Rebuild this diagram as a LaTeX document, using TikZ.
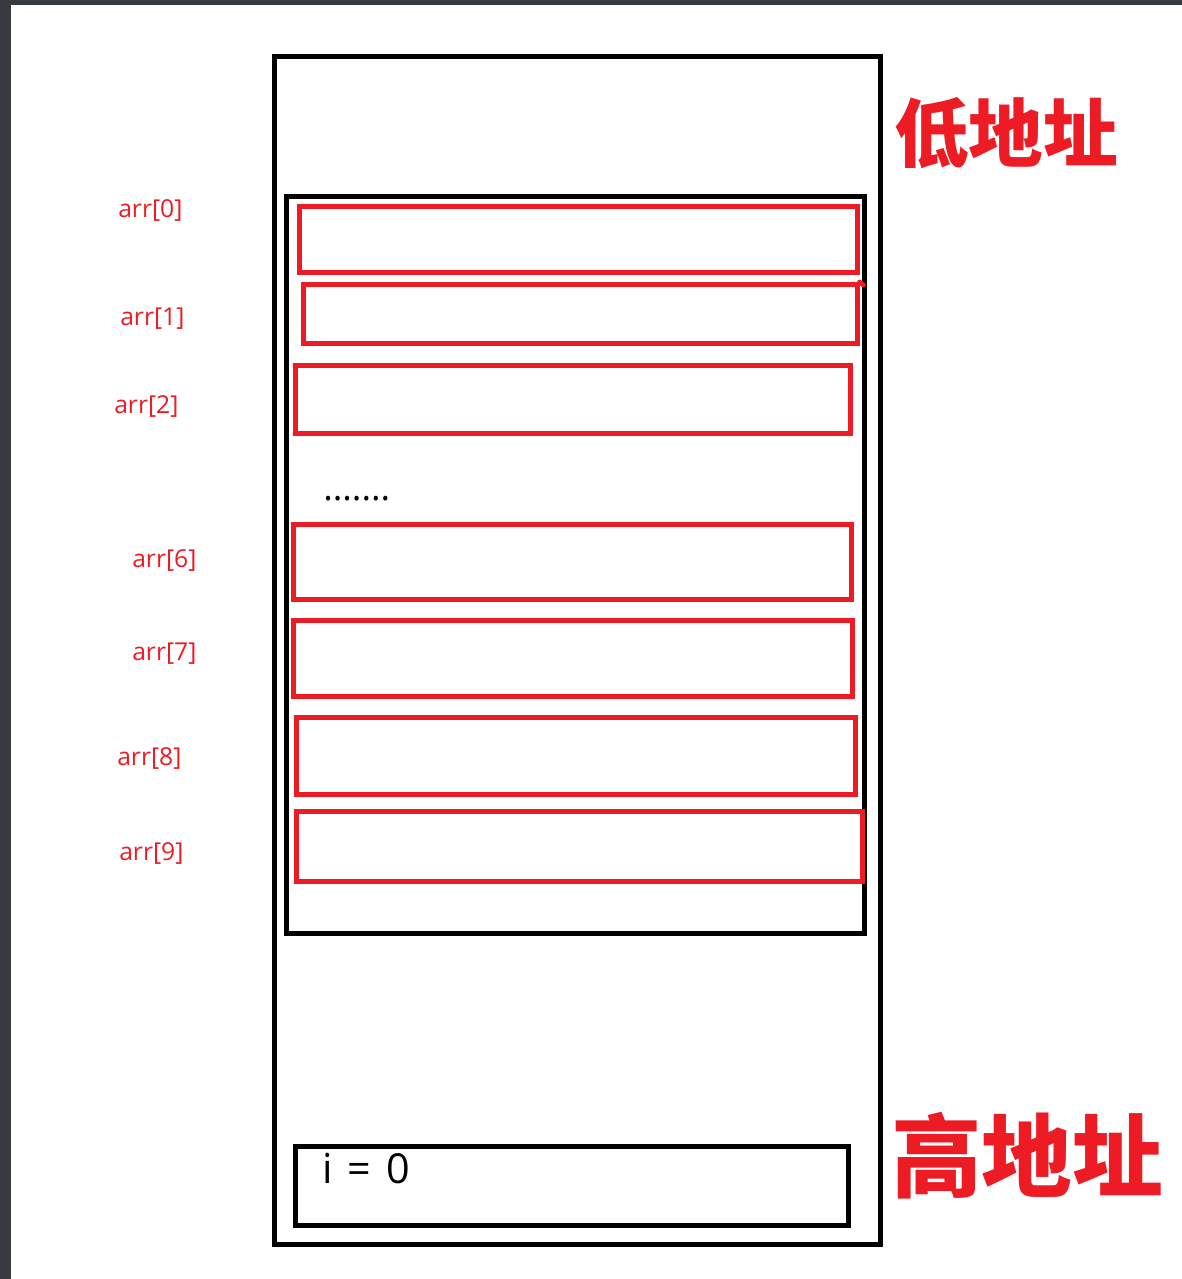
\documentclass[tikz,border=0pt]{standalone}
\usepackage{fontspec}
\setmainfont{Open Sans}
\newfontfamily\cjk{Noto Sans CJK SC}
\usepackage{tikz}
\definecolor{addrred}{RGB}{237,28,36}
\definecolor{screen}{RGB}{55,59,63}
\tikzstyle{frame}=[draw=black, line width=3.75pt, rectangle, inner sep=0pt]
\tikzstyle{cell}=[draw=addrred, line width=3.75pt, rectangle, inner sep=0pt]
\tikzstyle{index note}=[text=addrred, anchor=west, inner sep=0pt, font=\fontsize{18.5}{18.5}\selectfont]
\tikzstyle{addr note}=[text=addrred, inner sep=0pt, font=\cjk\bfseries]

\begin{document}
\begin{tikzpicture}[x=0.75pt, y=-0.75pt]
% Screen edge and page
\fill[screen] (0,0) rectangle (1182,1279);
\fill[white] (11,5) rectangle (1182,1279);
\useasboundingbox (0,0) rectangle (1182,1279);

% First we draw the black frames
\foreach \pos/\w/\h/\name in {
	{(577.5,650.5)/606/1188/outer},
	{(575.5,565)/578/737/inner},
	{(571.75,1186)/552.5/79/ibox}}
\node[frame, minimum width=\w*0.75pt, minimum height=\h*0.75pt] (\name) at \pos {};

% Then the red cells of the array
\foreach \pos/\w/\h/\name in {
	{(578,239.5)/558/66/c0},
	{(580.25,313.75)/553.5/58.5/c1},
	{(572.75,399)/555.5/68/c2},
	{(572.5,561.75)/558/74.5/c6},
	{(573,658.5)/559/76/c7},
	{(576,756)/559/77/c8},
	{(579.25,846.25)/565.5/69.5/c9}}
\node[cell, minimum width=\w*0.75pt, minimum height=\h*0.75pt] (\name) at \pos {};
\draw[addrred, line width=3.6pt, line cap=round] (c1.north east) -- ++(4,3);

% Index labels
\foreach \pos/\name/\idx in {
	{(118,211)/l0/0},
	{(120,319)/l1/1},
	{(114,407)/l2/2},
	{(132,561)/l6/6},
	{(132,654)/l7/7},
	{(117,759)/l8/8},
	{(119,854)/l9/9}}
\node[index note] (\name) at \pos {arr[\idx]};

\node[anchor=west, inner sep=0pt, font=\fontsize{27}{27}\selectfont] (dots) at (323,499) {.......};
\node[anchor=base west, inner sep=0pt, font=\fontsize{31}{31}\selectfont] (ival) at (322,1183) {i\hspace{0.36em}=\hspace{0.36em}0};

% Address notes
\node[addr note, font=\cjk\bfseries\fontsize{56}{56}\selectfont] (low) at (1006,133) {低地址};
\node[addr note, font=\cjk\bfseries\fontsize{68}{68}\selectfont] (high) at (1027,1156) {高地址};

\end{tikzpicture}
\end{document}
